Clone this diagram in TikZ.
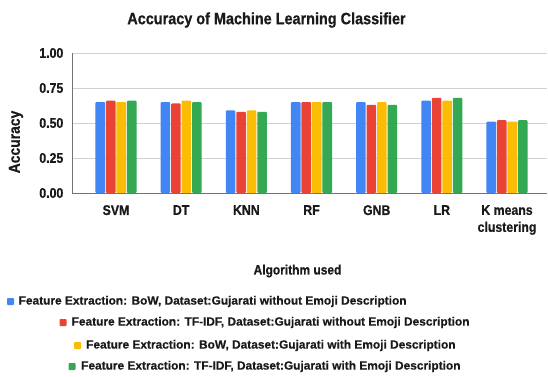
\documentclass[tikz,border=0pt]{standalone}
\usepackage{fontspec}
\setmainfont{Liberation Sans}
\newfontfamily\cb{Liberation Sans Bold}[FakeStretch=0.88, FakeBold=0.6]
\newfontfamily\cbw{Liberation Sans Bold}[FakeBold=0.5]
\definecolor{cBlue}{HTML}{4285F4}
\definecolor{cRed}{HTML}{EA4335}
\definecolor{cYellow}{HTML}{FBBC04}
\definecolor{cGreen}{HTML}{34A853}
\definecolor{ink}{HTML}{1A1A1A}
\tikzset{
  grid line/.style={draw=black!18, line width=0.8pt},
  axis line/.style={draw=black!55, line width=1pt},
  ticklab/.style={font=\cb\fontsize{14}{14}\selectfont, text=ink, anchor=east, inner sep=0pt},
  catlab/.style={font=\cb\fontsize{14}{17}\selectfont, text=ink, anchor=north, inner sep=0pt, align=center},
  axtitle/.style={font=\cb\fontsize{13.6}{14}\selectfont, text=ink, inner sep=0pt},
  legtext/.style={font=\cbw\fontsize{11.9}{12}\selectfont, text=ink, anchor=west, inner sep=0pt},
  legkey/.style={minimum size=7pt, inner sep=0pt, rounded corners=0.8pt},
  bar/.style={rounded corners=1pt}
}
\begin{document}
\begin{tikzpicture}[x=1pt, y=-1pt]
\useasboundingbox (0,0) rectangle (548,376);
\fill[white] (0,0) rectangle (548,376);

% title
\node[font=\cb\fontsize{16.4}{17}\selectfont, text=ink, inner sep=0pt] (title) at (266.5,20) {Accuracy of Machine Learning Classifier};

% horizontal grid and value labels
\foreach \v/\lab [count=\k] in {0.25/0.25,0.5/0.50,0.75/0.75,1/1.00} {
  \draw[grid line] (72,{193-140*\v}) -- (547,{193-140*\v});
}
\foreach \v/\lab [count=\k] in {0/0.00,0.25/0.25,0.5/0.50,0.75/0.75,1/1.00} {
  \node[ticklab] (tick\k) at (63.5,{193-140*\v}) {\lab};
}

% bars: BoW w/o emoji, TF-IDF w/o emoji, BoW with emoji, TF-IDF with emoji
\foreach \g/\va/\vb/\vc/\vd in {0/.65/.66/.65/.66, 1/.65/.64/.66/.65, 2/.59/.58/.59/.58,
  3/.65/.65/.65/.65, 4/.65/.63/.65/.63, 5/.66/.68/.66/.68, 6/.51/.52/.51/.52} {
  \pgfmathsetmacro\cx{116+65.17*\g}
  \fill[cBlue, bar]   ({\cx-20.55},193) |- ({\cx-10.95},{193-140*\va}) |- cycle;
  \fill[cRed, bar]    ({\cx-10.05},193) |- ({\cx-0.45},{193-140*\vb}) |- cycle;
  \fill[cYellow, bar] ({\cx+0.45},193)  |- ({\cx+10.05},{193-140*\vc}) |- cycle;
  \fill[cGreen, bar]  ({\cx+10.95},193) |- ({\cx+20.55},{193-140*\vd}) |- cycle;
}

% axes
\draw[axis line] (72,53) -- (72,193) -- (547,193);

% category labels
\foreach \name [count=\k from 0] in {SVM,DT,KNN,RF,GNB,LR,{K means\\clustering}} {
  \node[catlab] (cat\k) at ({116+65.17*\k},205) {\name};
}

% axis titles
\node[axtitle] (xtitle) at (297.5,271) {Algorithm used};
\node[axtitle, font=\cb\fontsize{15.8}{16}\selectfont, rotate=90] (ytitle) at (16,142) {Accuracy};

% legend
\node[legkey, fill=cBlue]   (k1) at (10.5,301.5) {};
\node[legtext] (l1) at (18.5,301.5) {Feature Extraction: BoW, Dataset:Gujarati without Emoji Description};
\node[legkey, fill=cRed]    (k2) at (63,322.5) {};
\node[legtext] (l2) at (71.5,322.5) {Feature Extraction: TF-IDF, Dataset:Gujarati without Emoji Description};
\node[legkey, fill=cYellow] (k3) at (77.5,345.5) {};
\node[legtext] (l3) at (86,345.5) {Feature Extraction: BoW, Dataset:Gujarati with Emoji Description};
\node[legkey, fill=cGreen]  (k4) at (72,366.5) {};
\node[legtext] (l4) at (81,366.5) {Feature Extraction: TF-IDF, Dataset:Gujarati with Emoji Description};
\end{tikzpicture}
\end{document}
